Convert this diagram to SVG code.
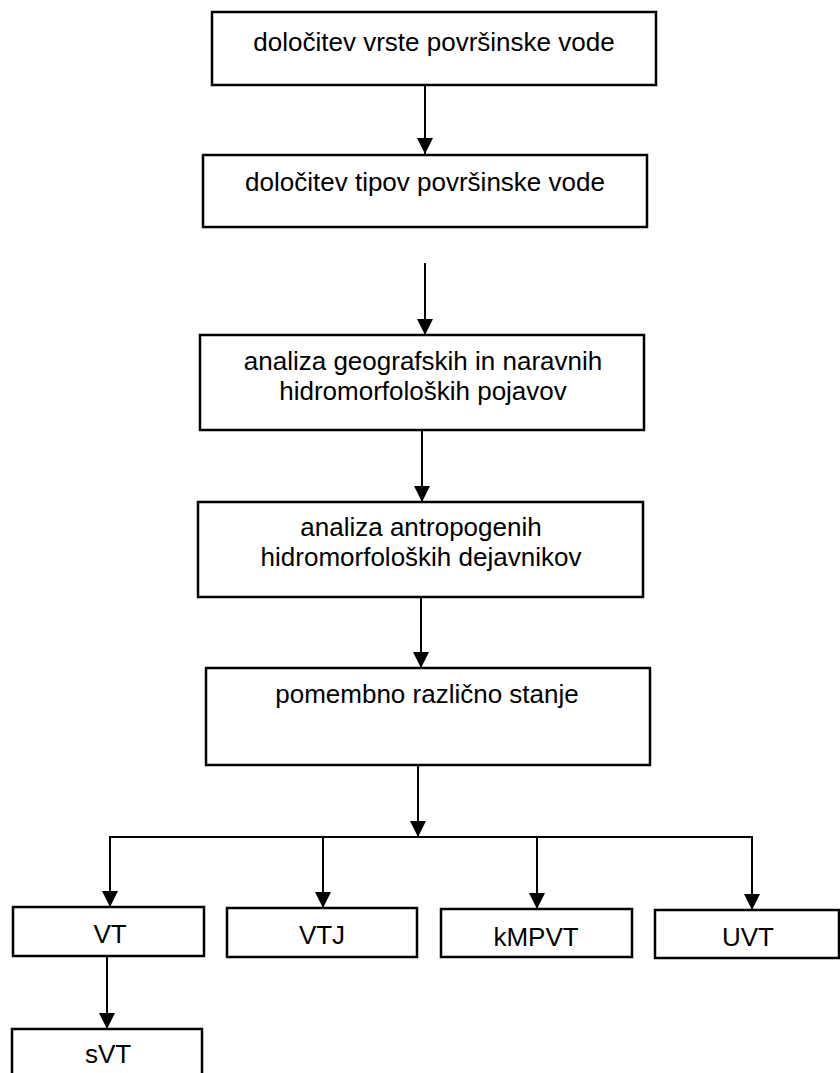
<svg xmlns="http://www.w3.org/2000/svg" width="840" height="1073" viewBox="0 0 840 1073">
<defs>
<marker id="ah" markerUnits="userSpaceOnUse" markerWidth="18" markerHeight="16" viewBox="0 0 18 16" refX="9" refY="16" orient="0">
<path d="M1,0 L17,0 L9,16 Z" fill="#000"/>
</marker>
<style>
.box{fill:#fff;stroke:#000;stroke-width:2.5}
.t{font-family:"Liberation Sans",Arial,sans-serif;font-size:26px;fill:#000;text-anchor:middle}
.c{stroke:#000;stroke-width:2;fill:none}
</style>
</defs>
<rect width="840" height="1073" fill="#fff"/>
<g id="connectors">
<line class="c" x1="425" y1="85" x2="425" y2="154" marker-end="url(#ah)"/>
<line class="c" x1="425" y1="263" x2="425" y2="335" marker-end="url(#ah)"/>
<line class="c" x1="422" y1="430" x2="422" y2="502" marker-end="url(#ah)"/>
<line class="c" x1="421" y1="597" x2="421" y2="668" marker-end="url(#ah)"/>
<line class="c" x1="418" y1="765" x2="418" y2="837" marker-end="url(#ah)"/>
<polyline class="c" points="110,907 110,837 752,837 752,910"/>
<line class="c" x1="110" y1="850" x2="110" y2="907" marker-end="url(#ah)"/>
<line class="c" x1="752" y1="850" x2="752" y2="910" marker-end="url(#ah)"/>
<line class="c" x1="323" y1="837" x2="323" y2="908" marker-end="url(#ah)"/>
<line class="c" x1="537" y1="837" x2="537" y2="909" marker-end="url(#ah)"/>
<line class="c" x1="107" y1="956" x2="107" y2="1029" marker-end="url(#ah)"/>
</g>
<g id="n1"><rect class="box" x="212" y="12" width="444" height="73"/><text class="t" x="434" y="51">določitev vrste površinske vode</text></g>
<g id="n2"><rect class="box" x="203" y="155" width="444" height="72"/><text class="t" x="425" y="191">določitev tipov površinske vode</text></g>
<g id="n3"><rect class="box" x="200" y="335" width="444" height="95"/><text class="t" x="423" y="370">analiza geografskih in naravnih</text><text class="t" x="423" y="400">hidromorfoloških pojavov</text></g>
<g id="n4"><rect class="box" x="198" y="502" width="445" height="95"/><text class="t" x="421" y="536">analiza antropogenih</text><text class="t" x="421" y="566">hidromorfoloških dejavnikov</text></g>
<g id="n5"><rect class="box" x="206" y="668" width="444" height="97"/><text class="t" x="427" y="703">pomembno različno stanje</text></g>
<g id="n6"><rect class="box" x="13" y="907" width="191" height="49"/><text class="t" x="110" y="943">VT</text></g>
<g id="n7"><rect class="box" x="227" y="908" width="190" height="49"/><text class="t" x="322" y="944">VTJ</text></g>
<g id="n8"><rect class="box" x="441" y="909" width="191" height="48"/><text class="t" x="536" y="946">kMPVT</text></g>
<g id="n9"><rect class="box" x="655" y="910" width="184" height="48"/><text class="t" x="748" y="946">UVT</text></g>
<g id="n10"><rect class="box" x="12" y="1029" width="190" height="50"/><text class="t" x="108" y="1063">sVT</text></g>
</svg>
